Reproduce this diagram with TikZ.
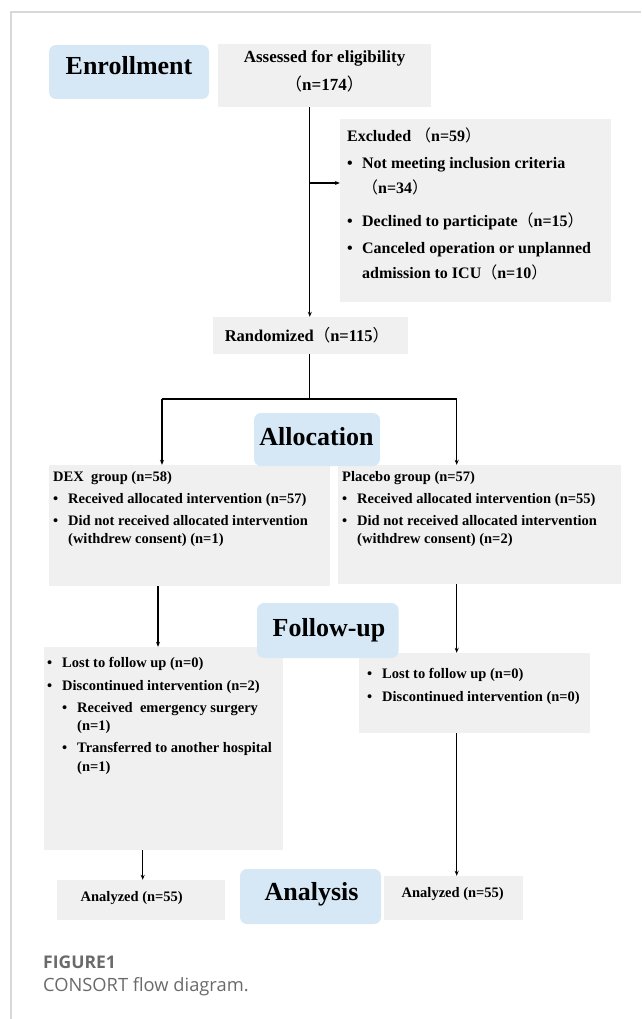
\documentclass[tikz,border=0pt]{standalone}
\usepackage{fontspec}
\setmainfont{Liberation Serif}
\newfontfamily\cjk{Noto Sans CJK SC}
\newfontfamily\capfont{Open Sans}
\usetikzlibrary{arrows.meta,calc}
\newcommand{\LPc}{{\cjk\mdseries （}}
\newcommand{\RPc}{{\cjk\mdseries ）}}
\newcommand{\Bu}{\makebox[15pt][l]{\textbullet}}
\newcommand{\Hi}{\hspace*{15pt}}
\newcommand{\Lines}[1]{\begin{tabular}[t]{@{}l@{}}#1\end{tabular}}
\newcommand{\CLines}[1]{\begin{tabular}[t]{@{}c@{}}#1\end{tabular}}
\definecolor{boxgray}{HTML}{F0F0F0}
\definecolor{headblue}{HTML}{D6E8F5}
\definecolor{framegray}{HTML}{D8D8D8}
\definecolor{capgray}{HTML}{6A6A6A}
\tikzset{
  gbox/.style={fill=boxgray, draw=none, inner sep=0pt},
  hbox/.style={fill=headblue, draw=none, rounded corners=7pt, inner sep=0pt},
  head/.style={anchor=base, inner sep=0pt, font=\fontsize{26}{30}\selectfont\bfseries},
  bigtxt/.style={anchor=base west, inner sep=0pt, font=\fontsize{16}{25}\selectfont\bfseries},
  smalltxt/.style={anchor=base west, inner sep=0pt, font=\fontsize{14.5}{18}\selectfont\bfseries},
  conn/.style={line width=1.1pt, black},
  arr/.style={conn, -{Stealth[length=5pt,width=4pt]}},
}
\begin{document}
\begin{tikzpicture}[x=1pt, y=-1pt]
\useasboundingbox (0,0) rectangle (641,1019);
% frame
\draw[framegray, line width=1.2pt] (641,12) -- (11,12) -- (11,1019);

% grey boxes
\node[gbox, minimum width=213.5pt, minimum height=63pt] (assess) at (324.25,75.5) {};
\node[gbox, minimum width=271pt, minimum height=183pt] (excl) at (475.5,210.5) {};
\node[gbox, minimum width=195.8pt, minimum height=37pt] (rand) at (310.5,335.5) {};
\node[gbox, minimum width=281pt, minimum height=121pt] (dex) at (189.5,525.5) {};
\node[gbox, minimum width=282.6pt, minimum height=119pt] (plac) at (479.3,524.5) {};
\node[gbox, minimum width=238.5pt, minimum height=203pt] (fuL) at (163.25,748.5) {};
\node[gbox, minimum width=231pt, minimum height=80pt] (fuR) at (474,693) {};
\node[gbox, minimum width=168pt, minimum height=40pt] (anL) at (141,900) {};
\node[gbox, minimum width=139pt, minimum height=44pt] (anR) at (453,898) {};

% blue heading boxes
\node[hbox, minimum width=160pt, minimum height=54pt] (enroll) at (129,72) {};
\node[hbox, minimum width=126pt, minimum height=53pt] (alloc) at (317,439.5) {};
\node[hbox, minimum width=141.6pt, minimum height=55pt] (follow) at (327.8,630.5) {};
\node[hbox, minimum width=141pt, minimum height=55pt] (analysis) at (310.5,896.5) {};

% headings
\node[head] (tEnroll) at (129,75) {Enrollment};
\node[head] (tAlloc) at (316.5,445) {Allocation};
\node[head] (tFollow) at (329,636) {Follow-up};
\node[head] (tAnalysis) at (311.5,900) {Analysis};

% texts
\node[anchor=base, inner sep=0pt, font=\fontsize{17}{28}\selectfont\bfseries] (tAssess) at (324.5,62.7)
  {\CLines{Assessed for eligibility\\ \LPc n=174\RPc}};
\node[bigtxt] (tExcl) at (347,141.3) {\Lines{%
  Excluded \LPc n=59\RPc\\[2pt]
  \Bu Not meeting inclusion criteria\\
  \Hi\LPc n=34\RPc\\[8pt]
  \Bu Declined to participate\LPc n=15\RPc\\[2pt]
  \Bu Canceled operation or unplanned\\
  \Hi admission to ICU\LPc n=10\RPc}};
\node[anchor=base, inner sep=0pt, font=\fontsize{16.5}{20}\selectfont\bfseries] (tRand) at (307,341.5)
  {Randomized\LPc n=115\RPc};
\node[smalltxt] (tDex) at (53,481.8) {\Lines{%
  DEX\ \ group (n=58)\\[4pt]
  \Bu Received allocated intervention (n=57)\\[4pt]
  \Bu Did not received allocated intervention\\
  \Hi(withdrew consent) (n=1)}};
\node[smalltxt] (tPlac) at (342,481.8) {\Lines{%
  Placebo group (n=57)\\[4pt]
  \Bu Received allocated intervention (n=55)\\[4pt]
  \Bu Did not received allocated intervention\\
  \Hi(withdrew consent) (n=2)}};
\node[smalltxt, font=\fontsize{14.5}{18.5}\selectfont\bfseries] (tFuL) at (47,667.8) {\Lines{%
  \Bu Lost to follow up (n=0)\\[4pt]
  \Bu Discontinued intervention (n=2)\\[3.5pt]
  \Hi\Bu Received\ \ emergency surgery\\
  \Hi\Hi(n=1)\\[3.5pt]
  \Hi\Bu Transferred to another hospital\\
  \Hi\Hi(n=1)}};
\node[smalltxt, font=\fontsize{14.5}{23}\selectfont\bfseries] (tFuR) at (367,678.8) {\Lines{%
  \Bu Lost to follow up (n=0)\\
  \Bu Discontinued intervention (n=0)}};
\node[smalltxt] (tAnL) at (80.5,901.8) {Analyzed (n=55)};
\node[smalltxt] (tAnR) at (401.5,897.8) {Analyzed (n=55)};

% caption
\node[anchor=base west, inner sep=0pt, text=capgray, font=\capfont\fontsize{17.5}{20}\selectfont\bfseries] (fig) at (43,968.3) {FIGURE1};
\node[anchor=base west, inner sep=0pt, text=capgray, font=\capfont\fontsize{18.3}{20}\selectfont] (cap) at (43,991.7) {CONSORT flow diagram.};

% connector coordinates
\coordinate (exj) at (309.8,183);
\coordinate (splitL) at (162,399);
\coordinate (splitR) at (456.7,399);
\coordinate (colL1) at (158,0);
\coordinate (colL2) at (142.7,0);
\coordinate (colR) at (456.7,0);

% connectors
\draw[arr] (exj |- assess.south) -- (exj |- rand.north);
\draw[arr] (exj) -- (exj -| excl.west);
\draw[conn] (rand.south -| exj) -- (exj |- splitL);
\draw[conn] (splitL) -- (splitR);
\draw[arr] (splitL) -- (splitL |- dex.north);
\draw[arr] (splitR) -- (splitR |- plac.north);
\draw[arr] (colL1 |- dex.south) -- (colL1 |- fuL.north);
\draw[arr] (colR |- plac.south) -- (colR |- fuR.north);
\draw[arr] (colL2 |- fuL.south) -- (colL2 |- anL.north);
\draw[arr] (colR |- fuR.south) -- (colR |- anR.north);
\end{tikzpicture}
\end{document}
